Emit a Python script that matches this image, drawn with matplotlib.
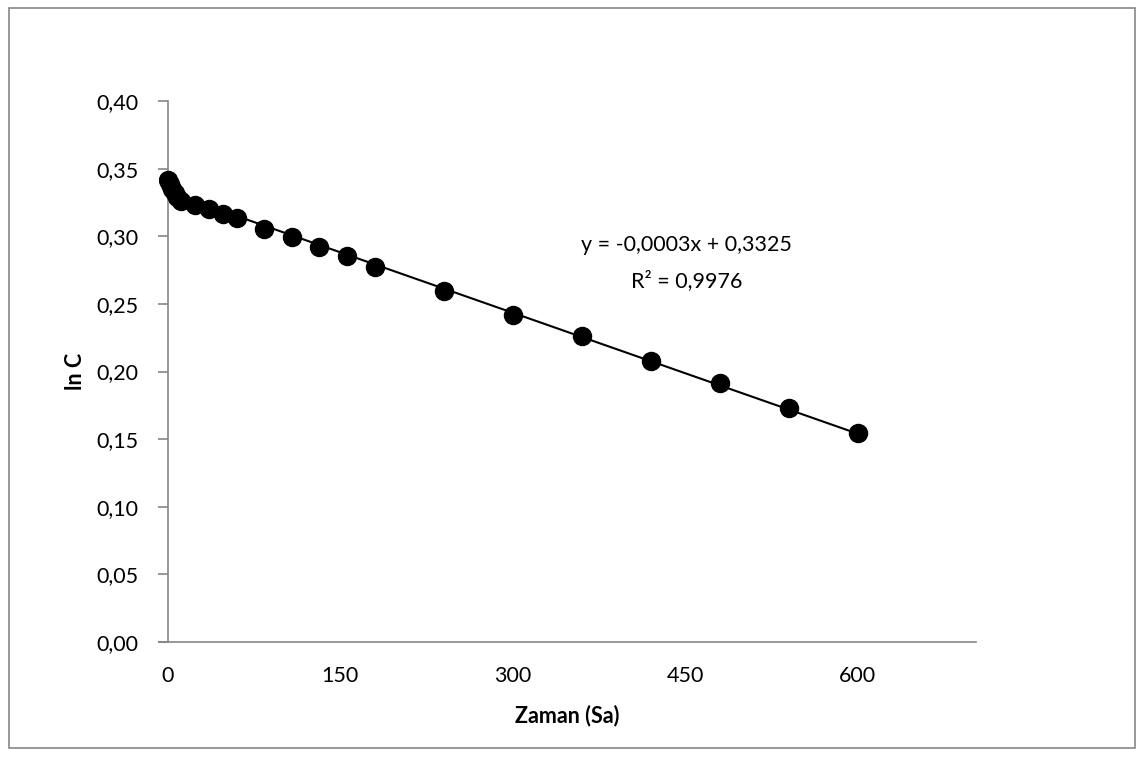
import matplotlib.pyplot as plt
import numpy as np
from matplotlib.ticker import FuncFormatter, FixedLocator
from matplotlib.patches import Rectangle

plt.rcParams['font.family'] = ['Lato', 'DejaVu Sans']

# zaman (saat) ve ln C değerleri
zaman = [0, 2, 4, 6, 8, 12, 24, 36, 48, 60, 84, 108, 132, 156, 180,
         240, 300, 360, 420, 480, 540, 600]
ln_c = [0.3416, 0.3385, 0.3352, 0.3318, 0.3290, 0.3260, 0.3232, 0.3205,
        0.3162, 0.3135, 0.3054, 0.2997, 0.2923, 0.2856, 0.2775,
        0.2595, 0.2418, 0.2262, 0.2080, 0.1913, 0.1732, 0.1548]

x_ticks = [0, 150, 300, 450, 600]
y_ticks = [0.00, 0.05, 0.10, 0.15, 0.20, 0.25, 0.30, 0.35, 0.40]

fs = 15.5

fig = plt.figure(figsize=(11.44, 7.58), dpi=100)
ax = fig.add_axes([159 / 1144, 1 - 642 / 758, (976 - 159) / 1144, (642 - 101) / 758])

# dış çerçeve
fig.patches.append(Rectangle((9 / 1144, 1 - 748 / 758), 1126 / 1144, 740 / 758,
                             transform=fig.transFigure, fill=False,
                             edgecolor="#868686", linewidth=1.2))

# doğrusal trend çizgisi
k, b = np.polyfit(zaman, ln_c, 1)
xs = np.array([0, 600])
ax.plot(xs, k * xs + b, color="black", linewidth=1.5, zorder=2)

ax.plot(zaman, ln_c, "o", color="black", markersize=13, zorder=3)

ax.set_xlim(-7.5, 703)
ax.set_ylim(0, 0.40)

for s in ["top", "right"]:
    ax.spines[s].set_visible(False)
ax.spines["left"].set_position(("data", 0))
for s in ["left", "bottom"]:
    ax.spines[s].set_color("#868686")
    ax.spines[s].set_linewidth(1.2)

ax.xaxis.set_major_locator(FixedLocator(x_ticks))
ax.yaxis.set_major_locator(FixedLocator(y_ticks))
ax.yaxis.set_major_formatter(FuncFormatter(lambda v, p: f"{v:.2f}".replace(".", ",")))
ax.tick_params(axis="x", length=0, pad=17, labelsize=fs)
ax.tick_params(axis="y", length=7, width=1.2, color="#868686", pad=14, labelsize=fs)

ax.set_xlabel("Zaman (Sa)", fontsize=fs, fontweight="bold", labelpad=14)
ax.set_ylabel("ln C", fontsize=fs, fontweight="bold", labelpad=7)

ax.text(451, 0.2935, "y = -0,0003x + 0,3325", ha="center", va="center", fontsize=fs)
ax.text(451, 0.267, "R² = 0,9976", ha="center", va="center", fontsize=fs)

fig.savefig("out.png", dpi=100)
